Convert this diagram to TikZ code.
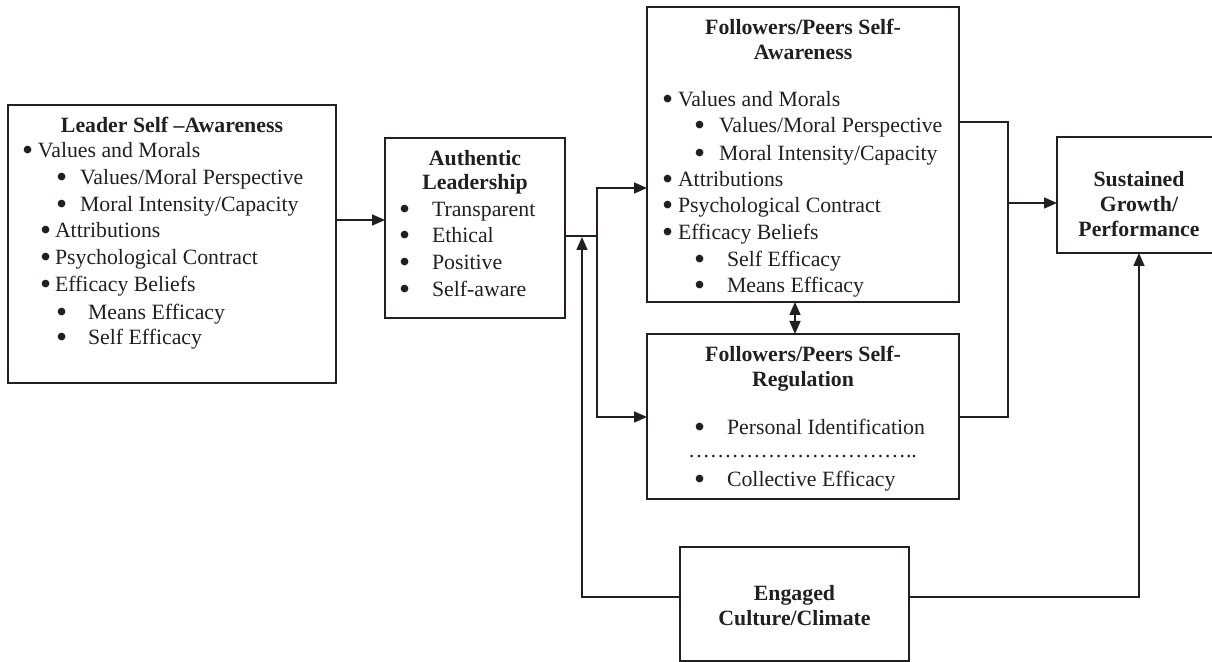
\documentclass[tikz,border=0pt]{standalone}
\usepackage{fontspec}
\usepackage{graphicx}
\setmainfont{Liberation Serif}
\usetikzlibrary{arrows.meta}
\definecolor{ink}{RGB}{35,31,32}
\newdimen\pxu \pxu=0.5pt
% bullet followed by a gap of #1 pixels up to the item text
\newcommand\bl[1]{\makebox[#1\pxu][l]{\smash{\raisebox{-0.1em}{\scalebox{1.45}{\textbullet}}}}}
\begin{document}
\begin{tikzpicture}[x=0.5pt,y=-0.5pt,
  box/.style={draw=ink,line width=0.9pt,inner sep=0pt,outer sep=0pt},
  txt/.style={inner sep=0pt,outer sep=0pt,text=ink,font=\fontsize{10.9pt}{13.3pt}\selectfont,anchor=base west},
  ttl/.style={txt,anchor=base,font=\fontsize{10.9pt}{13.3pt}\selectfont\bfseries},
  ln/.style={draw=ink,line width=0.8pt},
  arr/.style={ln,-{Triangle[length=6.5pt,width=5.5pt]}},
  arrb/.style={ln,{Triangle[length=6.5pt,width=5.5pt]}-{Triangle[length=6.5pt,width=5.5pt]}}]
\useasboundingbox (0,0) rectangle (1212,662);

% boxes
\node[box,minimum width=164pt,minimum height=139pt] (lsa) at (172,244) {};
\node[box,minimum width=90pt,minimum height=90pt] (al) at (475,228) {};
\node[box,minimum width=156pt,minimum height=147.5pt] (fsa) at (803,154.5) {};
\node[box,minimum width=156pt,minimum height=82.5pt] (fsr) at (803,416.5) {};
\node[box,minimum width=79.5pt,minimum height=58pt] (sg) at (1136.5,195) {};
\node[box,minimum width=114.5pt,minimum height=57pt] (ec) at (794.5,604) {};

% leader self-awareness
\node[ttl] (lsaT) at (172,133) {Leader Self \textendash Awareness};
\node[txt] (lsa1) at (22,158) {\bl{16}Values and Morals};
\node[txt] (lsa2) at (56,185) {\bl{24}Values/Moral Perspective};
\node[txt] (lsa3) at (56,212) {\bl{24}Moral Intensity/Capacity};
\node[txt] (lsa4) at (40,238) {\bl{15}Attributions};
\node[txt] (lsa5) at (40,265) {\bl{15}Psychological Contract};
\node[txt] (lsa6) at (40,292) {\bl{15}Efficacy Beliefs};
\node[txt] (lsa7) at (56,320) {\bl{32}Means Efficacy};
\node[txt] (lsa8) at (56,345) {\bl{32}Self Efficacy};

% authentic leadership
\node[ttl] (alT1) at (475,166) {Authentic};
\node[ttl] (alT2) at (475,190) {Leadership};
\node[txt] (al1) at (399,217) {\bl{33}Transparent};
\node[txt] (al2) at (399,243) {\bl{33}Ethical};
\node[txt] (al3) at (399,270) {\bl{33}Positive};
\node[txt] (al4) at (399,297) {\bl{33}Self-aware};

% followers/peers self-awareness
\node[ttl] (fsaT1) at (803,35) {Followers/Peers Self-};
\node[ttl] (fsaT2) at (803,60) {Awareness};
\node[txt] (fsa1) at (662,107) {\bl{16}Values and Morals};
\node[txt] (fsa2) at (694,133) {\bl{25}Values/Moral Perspective};
\node[txt] (fsa3) at (694,161) {\bl{25}Moral Intensity/Capacity};
\node[txt] (fsa4) at (662,187) {\bl{16}Attributions};
\node[txt] (fsa5) at (662,213) {\bl{16}Psychological Contract};
\node[txt] (fsa6) at (662,240) {\bl{16}Efficacy Beliefs};
\node[txt] (fsa7) at (694,267) {\bl{33}Self Efficacy};
\node[txt] (fsa8) at (694,293) {\bl{33}Means Efficacy};

% followers/peers self-regulation
\node[ttl] (fsrT1) at (803,362) {Followers/Peers Self-};
\node[ttl] (fsrT2) at (803,387) {Regulation};
\node[txt] (fsr1) at (694,435) {\bl{33}Personal Identification};
\node[txt] (fsr2) at (688,458) {\dots\dots\dots\dots\dots\dots\dots\dots\dots\dots..};
\node[txt] (fsr3) at (694,487) {\bl{33}Collective Efficacy};

% sustained growth / performance
\node[ttl] (sgT1) at (1139,187) {Sustained};
\node[ttl] (sgT2) at (1139,212) {Growth/};
\node[ttl] (sgT3) at (1139,237) {Performance};

% engaged culture / climate
\node[ttl] (ecT1) at (794.5,601) {Engaged};
\node[ttl] (ecT2) at (794.5,626) {Culture/Climate};

% connectors
\coordinate (split) at (597,236);
\coordinate (merge) at (1008,203);
\coordinate (rise) at (582,237);
\draw[arr] (lsa.east |- 0,220) -- (al.west |- 0,220);
\draw[ln] (al.east |- split) -- (split);
\draw[arr] (split) |- (fsa.west |- 0,188);
\draw[arr] (split) |- (fsr.west |- 0,417);
\draw[arrb] (fsa.south -| 795,0) -- (fsr.north -| 795,0);
\draw[ln] (fsa.east |- 0,122) -| (merge);
\draw[ln] (fsr.east |- 0,417) -| (merge);
\draw[arr] (merge) -- (sg.west |- merge);
\draw[arr] (ec.west |- 0,597) -| (rise);
\draw[arr] (ec.east |- 0,597) -| (sg.south -| 1139,0);
\end{tikzpicture}
\end{document}
